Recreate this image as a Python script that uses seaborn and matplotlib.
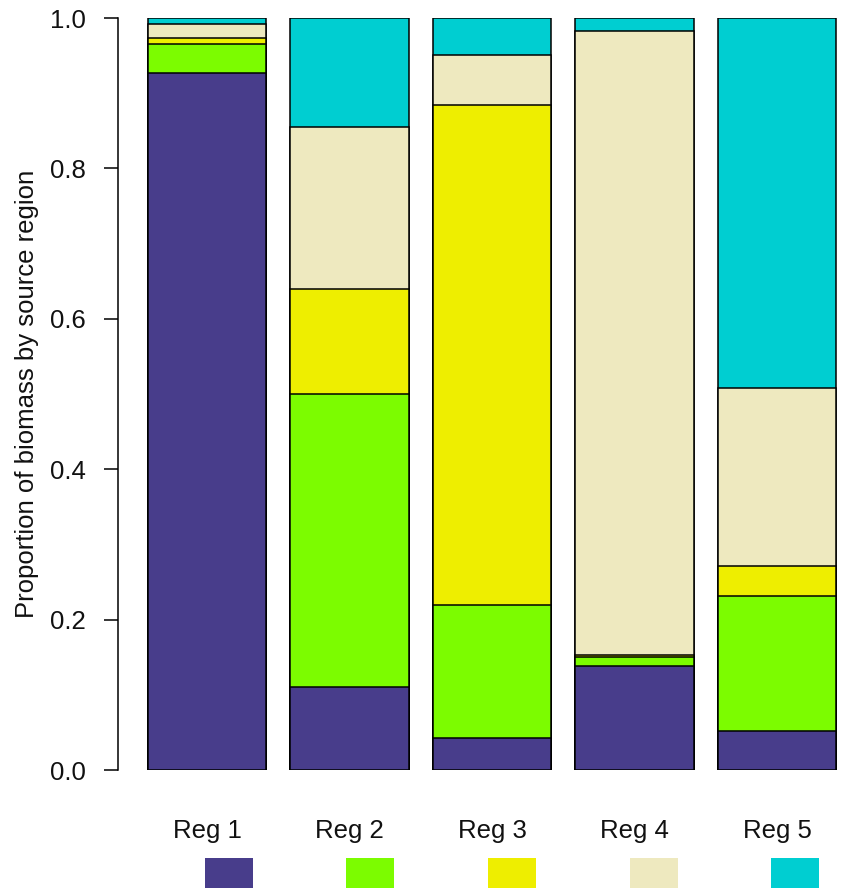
import numpy as np
import pandas as pd
import matplotlib
matplotlib.use("Agg")
import matplotlib.pyplot as plt
from matplotlib.patches import Rectangle
import seaborn as sns

regions = ["Reg 1", "Reg 2", "Reg 3", "Reg 4", "Reg 5"]
src_reg1 = [0.927, 0.110, 0.043, 0.138, 0.052]
src_reg2 = [0.038, 0.390, 0.176, 0.012, 0.179]
src_reg3 = [0.008, 0.140, 0.665, 0.003, 0.040]
src_reg4 = [0.019, 0.215, 0.067, 0.830, 0.237]
src_reg5 = [0.008, 0.145, 0.049, 0.017, 0.492]
colors = ["#483D8B", "#7CFC00", "#EEEE00", "#EEE9BF", "#00CED1"]

layers = [src_reg1, src_reg2, src_reg3, src_reg4, src_reg5]
cum = np.cumsum(np.array(layers), axis=0)

sns.set_style("white")
plt.rcParams["font.family"] = ["Liberation Sans", "DejaVu Sans"]
plt.rcParams["text.color"] = "black"
plt.rcParams["axes.labelcolor"] = "black"
plt.rcParams["xtick.color"] = "black"
plt.rcParams["ytick.color"] = "black"

W, H = 843, 893
fig = plt.figure(figsize=(W / 100, H / 100), dpi=100)
ax_left, ax_right, ax_top, ax_bot = 118, 841, 18, 770
ax = fig.add_axes([ax_left / W, 1 - ax_bot / H, (ax_right - ax_left) / W, (ax_bot - ax_top) / H])

for k in range(len(layers) - 1, -1, -1):
    df = pd.DataFrame({"region": regions, "value": cum[k]})
    sns.barplot(data=df, x="region", y="value", color=colors[k], saturation=1,
                edgecolor="black", linewidth=1.1, width=0.83, ax=ax, zorder=2 + (5 - k))

# x positions: bar 0 center at pixel 207, spacing 142.5
xl = -(207 - ax_left) / 142.5
xr = xl + (ax_right - ax_left) / 142.5
ax.set_xlim(xl, xr)
ax.set_ylim(0, 1)
ax.set_xlabel("")
ax.set_ylabel("Proportion of biomass by source region", fontsize=18.5, labelpad=8, color="#111111")

for s in ["top", "right", "bottom"]:
    ax.spines[s].set_visible(False)
ax.spines["left"].set_color("black")
ax.spines["left"].set_linewidth(1.1)
ax.set_yticks([0, 0.2, 0.4, 0.6, 0.8, 1.0])
ax.set_yticklabels(["0.0", "0.2", "0.4", "0.6", "0.8", "1.0"], fontsize=18.5, color="#111111")
ax.tick_params(axis="y", length=10, width=1.1, color="black", pad=13, left=True)
ax.tick_params(axis="x", length=0, pad=35, labelsize=18.5, labelcolor="#111111")
ax.grid(False)

# colour keys below the region labels
key_left = [205, 346, 488, 630, 771]
for xk, c in zip(key_left, colors):
    fig.patches.append(Rectangle((xk / W, 1 - 888 / H), 48 / W, 30 / H,
                                 transform=fig.transFigure, facecolor=c,
                                 edgecolor="none", figure=fig))

fig.savefig("out.png", dpi=100)
